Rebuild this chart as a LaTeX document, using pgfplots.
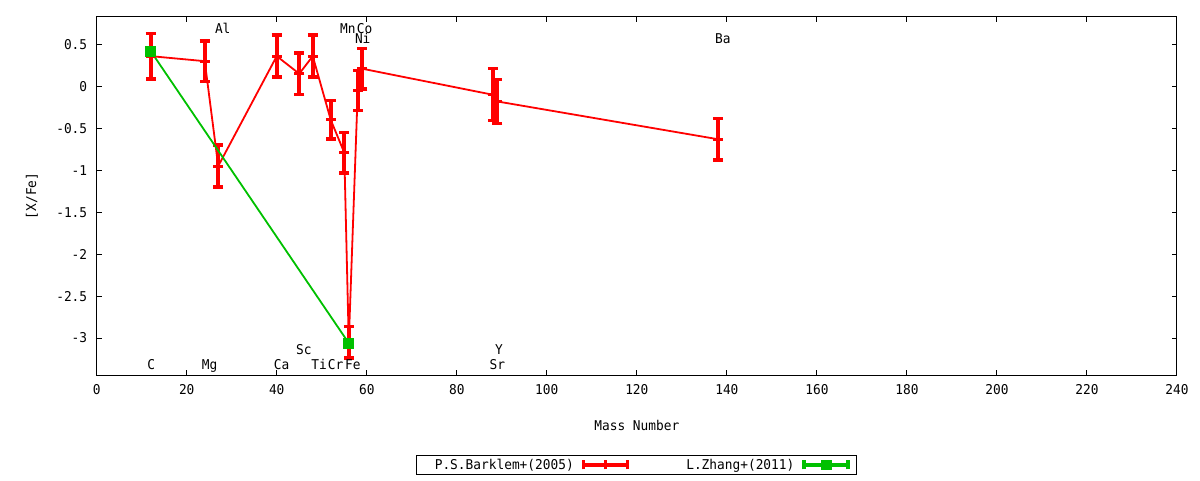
\documentclass[border=0pt]{standalone}
\usepackage{fontspec}
\setmainfont{DejaVu Sans Mono}[FakeStretch=0.95]
\usepackage{pgfplots}
\pgfplotsset{compat=1.18}

\definecolor{gpred}{RGB}{255,0,0}
\definecolor{gpgreen}{RGB}{0,192,0}

\begin{document}
\begin{tikzpicture}[font=\fontsize{13.5}{16}\selectfont]
\path[use as bounding box] (0,0) rectangle (1200pt,480pt);
\begin{axis}[
at={(96.7pt,105pt)}, anchor=south west,
scale only axis,
width=1080.3pt, height=358.3pt,
xmin=0, xmax=240,
ymin=-3.44, ymax=0.83,
xtick={0,20,...,240},
ytick={-3,-2.5,...,0.5},
/pgf/number format/assume math mode=true,
axis line style={line width=1pt},
tick style={line width=1pt, black},
major tick length=5pt,
xticklabel style={yshift=-6pt},
yticklabel style={xshift=-6pt},
xlabel={Mass Number},
ylabel={[X/Fe]},
x label style={at={(axis description cs:0.5,-0.1395)}, anchor=center},
y label style={at={(axis description cs:-0.0599,0.5)}, anchor=center},
legend plot pos=right,
legend columns=2,
legend style={
  at={(0.5,-0.251)}, anchor=center,
  draw=black, line width=0.8pt,
  inner xsep=7pt, inner ysep=3pt,
  nodes={inner sep=0pt},
  column sep=8pt,
  /tikz/every even column/.append style={column sep=57pt}
},
]

% P.S.Barklem+(2005)
\addplot[gpred, line width=1.8pt, mark=-, mark size=5pt,
  mark options={line width=3pt, solid},
  legend image code/.code={
    \draw[gpred, line width=3.5pt] (0pt,0pt) -- (44pt,0pt);
    \draw[gpred, line width=3.5pt] (0pt,-4.5pt) -- (0pt,4.5pt)
      (44pt,-4.5pt) -- (44pt,4.5pt) (22pt,-4.5pt) -- (22pt,4.5pt);
  },
  error bars/.cd, y dir=both, y explicit,
  error mark=|,
  error bar style={line width=4pt, gpred},
  error mark options={gpred, line width=3.5pt, mark size=5pt}]
table[x=x, y=y, y error=e] {
x    y      e
12   0.36   0.27
24   0.30   0.24
27  -0.95   0.25
40   0.36   0.25
45   0.15   0.25
48   0.36   0.25
52  -0.40   0.23
55  -0.79   0.24
56  -3.05   0.19
58  -0.05   0.24
59   0.21   0.24
88  -0.10   0.31
89  -0.18   0.26
138 -0.63   0.245
};
\addlegendentry{\hspace{11pt}P.S.Barklem+(2005)}

% L.Zhang+(2011)
\addplot[gpgreen, line width=1.8pt, mark=square*, mark size=4.5pt,
  legend image code/.code={
    \draw[gpgreen, line width=3.5pt] (0pt,0pt) -- (44pt,0pt);
    \draw[gpgreen, line width=3.5pt] (0pt,-4.5pt) -- (0pt,4.5pt)
      (44pt,-4.5pt) -- (44pt,4.5pt);
    \fill[gpgreen] (17.5pt,-4.5pt) rectangle (26.5pt,4.5pt);
  }]
table[x=x, y=y] {
x    y
12   0.42
56  -3.06
};
\addlegendentry{L.Zhang+(2011)}

% element labels
\node[anchor=base] at (axis cs:12.1,-3.37) {C};
\node[anchor=base] at (axis cs:25.1,-3.37) {Mg};
\node[anchor=base] at (axis cs:28.0,0.63) {Al};
\node[anchor=base] at (axis cs:41.1,-3.37) {Ca};
\node[anchor=base] at (axis cs:46.0,-3.20) {Sc};
\node[anchor=base] at (axis cs:49.4,-3.37) {Ti};
\node[anchor=base] at (axis cs:53.1,-3.37) {Cr};
\node[anchor=base] at (axis cs:56.9,-3.37) {Fe};
\node[anchor=base] at (axis cs:55.8,0.63) {Mn};
\node[anchor=base] at (axis cs:59.5,0.63) {Co};
\node[anchor=base] at (axis cs:59.1,0.515) {Ni};
\node[anchor=base] at (axis cs:89.0,-3.37) {Sr};
\node[anchor=base] at (axis cs:89.4,-3.20) {Y};
\node[anchor=base] at (axis cs:139.1,0.515) {Ba};
\end{axis}
\end{tikzpicture}
\end{document}
